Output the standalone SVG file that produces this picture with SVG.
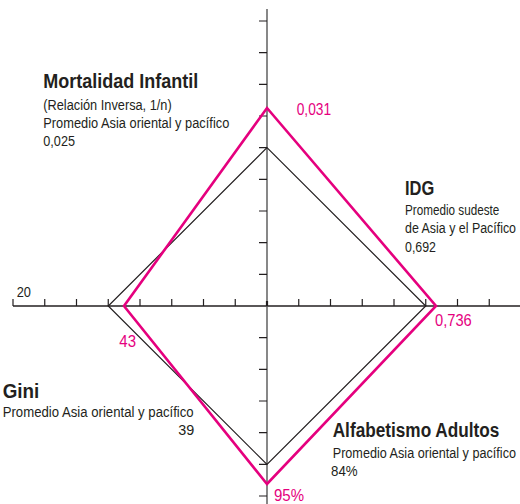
<svg xmlns="http://www.w3.org/2000/svg" width="520" height="504" viewBox="0 0 520 504">
<style>
.ax{stroke:#231f20;stroke-width:1.3;fill:none}
.axv{stroke:#555;stroke-width:1.4;fill:none}
.tk{stroke:#231f20;stroke-width:1.2;fill:none}
.ref{stroke:#231f20;stroke-width:1.2;fill:none;stroke-linejoin:miter}
.val{stroke:#e5007e;stroke-width:2.6;fill:none;stroke-linejoin:miter}
text{font-family:"Liberation Sans",Arial,sans-serif}
.t{font-size:21px;font-weight:bold;fill:#231f20}
.b{font-size:15px;fill:#231f20}
.m{font-size:16px;fill:#e5007e}
</style>
<rect width="520" height="504" fill="#fff"/>
<g id="axes">
<line class="ax" x1="13" y1="306" x2="520" y2="306"/>
<line class="axv" x1="267" y1="9" x2="267" y2="504"/>
<path class="tk" d="M13 299V306M44.75 299V306M76.5 299V306M108.25 299V306M140 299V306M171.75 299V306M203.5 299V306M235.25 299V306M298.75 299V306M330.5 299V306M362.25 299V306M394 299V306M425.75 299V306M457.5 299V306M489.25 299V306"/>
<path class="tk" d="M259 21H267M259 52.7H267M259 84.3H267M259 116H267M259 147.7H267M259 179.3H267M259 211H267M259 242.7H267M259 274.3H267M259 337.7H267M259 369.3H267M259 401H267M259 432.7H267M259 464.3H267M259 496H267"/>
<line x1="267" y1="301" x2="267" y2="306" stroke="#231f20" stroke-width="2.2"/>
</g>
<g id="connectors">
<polygon id="promedio" class="ref" points="267,147.7 425.75,306 267,464.5 108.25,306"/>
<polygon id="valores" class="val" points="267,108 436,306 267,484 124,306"/>
</g>
<g id="node-mortalidad">
<text class="t" transform="matrix(0.8 0 0 1 43.3 88.3)" textLength="193.75" lengthAdjust="spacingAndGlyphs">Mortalidad Infantil</text>
<text class="b" transform="matrix(0.82 0 0 1 43.3 110)" textLength="156.6" lengthAdjust="spacingAndGlyphs">(Relación Inversa, 1/n)</text>
<text class="b" transform="matrix(0.82 0 0 1 43.3 128.3)" textLength="226.8" lengthAdjust="spacingAndGlyphs">Promedio Asia oriental y pacífico</text>
<text class="b" transform="matrix(0.82 0 0 1 43.3 146)" textLength="38.7" lengthAdjust="spacingAndGlyphs">0,025</text>
<text class="m" transform="matrix(0.85 0 0 1 296.7 115)" textLength="40.4" lengthAdjust="spacingAndGlyphs">0,031</text>
</g>
<g id="node-idg">
<text class="t" transform="matrix(0.8 0 0 1 405 195)" textLength="36.6" lengthAdjust="spacingAndGlyphs">IDG</text>
<text class="b" transform="matrix(0.82 0 0 1 405 215)" textLength="115" lengthAdjust="spacingAndGlyphs">Promedio sudeste</text>
<text class="b" transform="matrix(0.82 0 0 1 405 233.3)" textLength="135.4" lengthAdjust="spacingAndGlyphs">de Asia y el Pacífico</text>
<text class="b" transform="matrix(0.82 0 0 1 405 251.7)" textLength="37.8" lengthAdjust="spacingAndGlyphs">0,692</text>
<text class="m" transform="matrix(0.85 0 0 1 435 326)" textLength="43.2" lengthAdjust="spacingAndGlyphs">0,736</text>
</g>
<g id="node-gini">
<text class="t" transform="matrix(0.8 0 0 1 2.7 398.3)" textLength="45.75" lengthAdjust="spacingAndGlyphs">Gini</text>
<text class="b" transform="matrix(0.82 0 0 1 2.7 416.7)" textLength="232.9" lengthAdjust="spacingAndGlyphs">Promedio Asia oriental y pacífico</text>
<text class="b" transform="matrix(0.82 0 0 1 178.3 435)" textLength="19.5" lengthAdjust="spacingAndGlyphs">39</text>
<text class="m" transform="matrix(0.85 0 0 1 119.3 347.3)" textLength="19.6" lengthAdjust="spacingAndGlyphs">43</text>
<text class="b" transform="matrix(0.82 0 0 1 16.7 297.3)" textLength="17.4" lengthAdjust="spacingAndGlyphs">20</text>
</g>
<g id="node-alfabetismo">
<text class="t" transform="matrix(0.8 0 0 1 332.7 436.7)" textLength="208.25" lengthAdjust="spacingAndGlyphs">Alfabetismo Adultos</text>
<text class="b" transform="matrix(0.82 0 0 1 332.7 458.3)" textLength="223.5" lengthAdjust="spacingAndGlyphs">Promedio Asia oriental y pacífico</text>
<text class="b" transform="matrix(0.82 0 0 1 331 476)" textLength="32.4" lengthAdjust="spacingAndGlyphs">84%</text>
<text class="m" transform="matrix(0.85 0 0 1 274 501)" textLength="35.3" lengthAdjust="spacingAndGlyphs">95%</text>
</g>
</svg>
